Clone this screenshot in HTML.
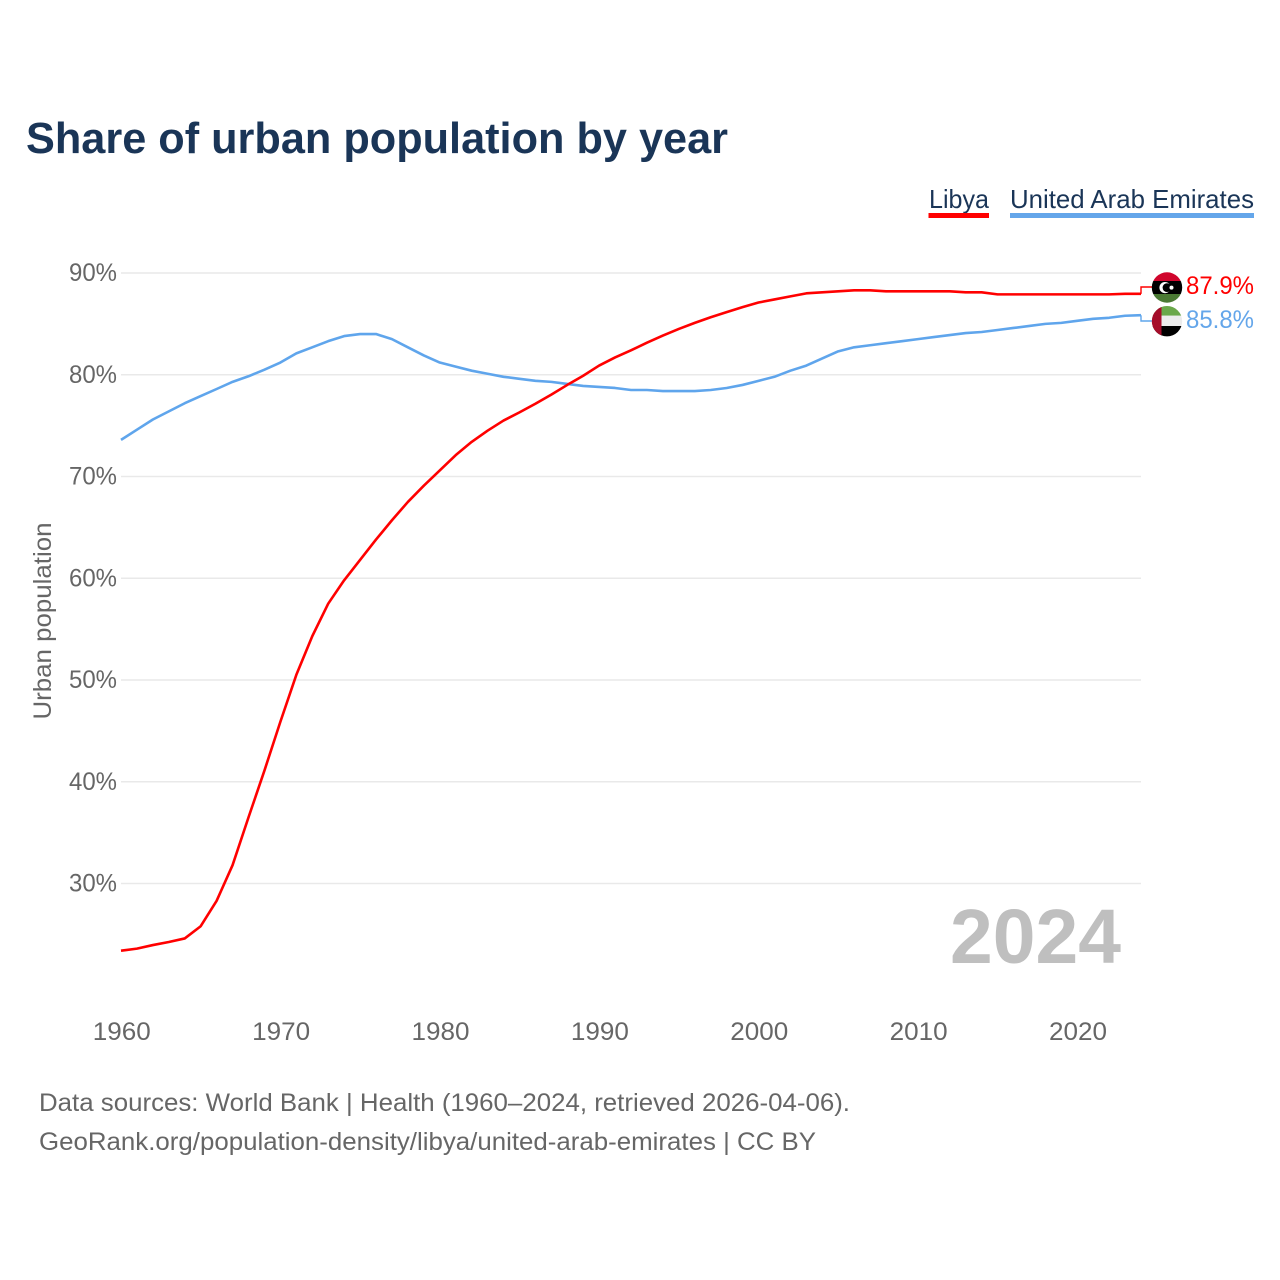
<!DOCTYPE html>
<html lang="en">
<head>
<meta charset="utf-8">
<title>Share of urban population by year</title>
<style>
html,body{margin:0;padding:0;background:#fff;}
svg{display:block;font-family:"Liberation Sans",sans-serif;}
</style>
</head>
<body>
<svg id="chart" width="1280" height="1280" viewBox="0 0 1280 1280" xmlns="http://www.w3.org/2000/svg">
<defs>
<clipPath id="clip-libya"><circle cx="1167" cy="287.5" r="15.2"/></clipPath>
<clipPath id="clip-uae"><circle cx="1167" cy="321.2" r="15.2"/></clipPath>
</defs>
<rect width="1280" height="1280" fill="#fff"/>
<text x="26" y="153" font-size="44" font-weight="700" fill="#1a3557" textLength="702" lengthAdjust="spacingAndGlyphs">Share of urban population by year</text>
<g>
<g>
<text x="929" y="208" font-size="26" fill="#1a3557" textLength="60" lengthAdjust="spacingAndGlyphs">Libya</text>
<rect x="928.5" y="213" width="60.5" height="5" fill="#ff0000"/>
</g>
<g>
<text x="1010" y="208" font-size="26" fill="#1a3557" textLength="244" lengthAdjust="spacingAndGlyphs">United Arab Emirates</text>
<rect x="1010" y="213" width="244" height="5" fill="#64a6ea"/>
</g>
</g>
<g id="grid"></g>
<g id="y-ticks"></g>
<g id="x-ticks"></g>
<text transform="translate(51,621) rotate(-90)" text-anchor="middle" font-size="25" fill="#666666" textLength="197" lengthAdjust="spacingAndGlyphs">Urban population</text>
<text x="950" y="963" font-size="77" font-weight="700" fill="#bfbfbf" textLength="171" lengthAdjust="spacingAndGlyphs">2024</text>
<g id="series"></g>
<g clip-path="url(#clip-libya)">
<rect x="1151" y="272" width="32" height="9" fill="#d0052c"/>
<rect x="1151" y="281" width="32" height="13" fill="#000000"/>
<rect x="1151" y="294" width="32" height="10" fill="#4b7a34"/>
<circle cx="1165" cy="287.6" r="5.6" fill="#ffffff"/>
<circle cx="1167" cy="287.6" r="4.4" fill="#000000"/>
<circle cx="1171.5" cy="287.6" r="2" fill="#ffffff"/>
</g>
<g clip-path="url(#clip-uae)">
<rect x="1151" y="305" width="32" height="10.7" fill="#6aa84a"/>
<rect x="1151" y="315.7" width="32" height="10.3" fill="#ececec"/>
<rect x="1151" y="326" width="32" height="11" fill="#000000"/>
<rect x="1151" y="305" width="10.5" height="32" fill="#a50d2a"/>
</g>
<text x="1186" y="294" font-size="25" fill="#ff0000" textLength="68" lengthAdjust="spacingAndGlyphs">87.9%</text>
<text x="1186" y="328" font-size="25" fill="#64a6ea" textLength="68" lengthAdjust="spacingAndGlyphs">85.8%</text>
<text x="39" y="1111" font-size="25" fill="#666666" textLength="811" lengthAdjust="spacingAndGlyphs">Data sources: World Bank | Health (1960–2024, retrieved 2026-04-06).</text>
<text x="39" y="1150" font-size="25" fill="#666666" textLength="777" lengthAdjust="spacingAndGlyphs">GeoRank.org/population-density/libya/united-arab-emirates | CC BY</text>
</svg>
<script>
const startYear = 1960;
const yTickValues = [90, 80, 70, 60, 50, 40, 30];
const xTickYears = [1960, 1970, 1980, 1990, 2000, 2010, 2020];
const libyaValues = [23.4,23.6,23.95,24.25,24.6,25.8,28.3,31.8,36.5,41.1,45.9,50.5,54.3,57.5,59.8,61.8,63.8,65.7,67.5,69.1,70.6,72.1,73.4,74.5,75.5,76.3,77.15,78.05,79.0,79.9,80.9,81.7,82.4,83.15,83.85,84.5,85.1,85.65,86.15,86.65,87.1,87.4,87.7,88.0,88.1,88.2,88.3,88.3,88.2,88.2,88.2,88.2,88.2,88.1,88.1,87.9,87.9,87.9,87.9,87.9,87.9,87.9,87.9,87.95,87.95];
const uaeValues = [73.6,74.6,75.6,76.4,77.2,77.9,78.6,79.3,79.85,80.5,81.2,82.1,82.7,83.3,83.8,84.0,84.0,83.5,82.7,81.9,81.2,80.8,80.4,80.1,79.8,79.6,79.4,79.3,79.1,78.9,78.8,78.7,78.5,78.5,78.4,78.4,78.4,78.5,78.7,79.0,79.4,79.8,80.4,80.9,81.6,82.3,82.7,82.9,83.1,83.3,83.5,83.7,83.9,84.1,84.2,84.4,84.6,84.8,85.0,85.1,85.3,85.5,85.6,85.8,85.85];

const svgNS = 'http://www.w3.org/2000/svg';
function xScale(year) { return 121 + (year - 1960) * (1141 - 121) / 64; }
function yScale(v) { return 273 + (90 - v) * 10.175; }
function make(tag, attrs, parent) {
  const el = document.createElementNS(svgNS, tag);
  for (const k in attrs) el.setAttribute(k, attrs[k]);
  parent.appendChild(el);
  return el;
}
const grid = document.getElementById('grid');
const yTicks = document.getElementById('y-ticks');
const xTicks = document.getElementById('x-ticks');
const series = document.getElementById('series');

yTickValues.forEach(function (v) {
  const line = make('line', {x1: 121, x2: 1141, y1: yScale(v), y2: yScale(v), stroke: '#e9e9e9', 'stroke-width': 1.5}, grid);
  
  
  const label = make('text', {x: 117, y: yScale(v) + 8, 'text-anchor': 'end', 'font-size': 25, fill: '#666666', textLength: 48, lengthAdjust: 'spacingAndGlyphs'}, yTicks);
  
  
  label.textContent = v + '%';
});
xTickYears.forEach(function (yr) {
  const label = make('text', {x: xScale(yr) + 0.8, y: 1040, 'text-anchor': 'middle', 'font-size': 25, fill: '#666666', textLength: 58, lengthAdjust: 'spacingAndGlyphs'}, xTicks);
  
  
  label.textContent = yr;
});
function pathFor(values) {
  return values.map(function (v, i) {
    return (i ? 'L' : 'M') + xScale(startYear + i).toFixed(2) + ' ' + yScale(v).toFixed(2);
  }).join(' ');
}
const uaeLine = make('path', {d: pathFor(uaeValues), fill: 'none', stroke: '#5fa5ec', 'stroke-width': 2.6, 'stroke-linejoin': 'round'}, series);


const libyaLine = make('path', {d: pathFor(libyaValues), fill: 'none', stroke: '#ff0000', 'stroke-width': 2.6, 'stroke-linejoin': 'round'}, series);



const lastYear = startYear + libyaValues.length - 1;
const libyaEnd = yScale(libyaValues[libyaValues.length - 1]);
const uaeEnd = yScale(uaeValues[uaeValues.length - 1]);
const libyaLeader = make('path', {d: 'M' + xScale(lastYear) + ' ' + libyaEnd + ' V287 H1152', fill: 'none', stroke: '#ff0000', 'stroke-width': 1.4}, series);


const uaeLeader = make('path', {d: 'M' + xScale(lastYear) + ' ' + uaeEnd + ' V321 H1152', fill: 'none', stroke: '#5fa5ec', 'stroke-width': 1.4}, series);


</script>
</body>
</html>
